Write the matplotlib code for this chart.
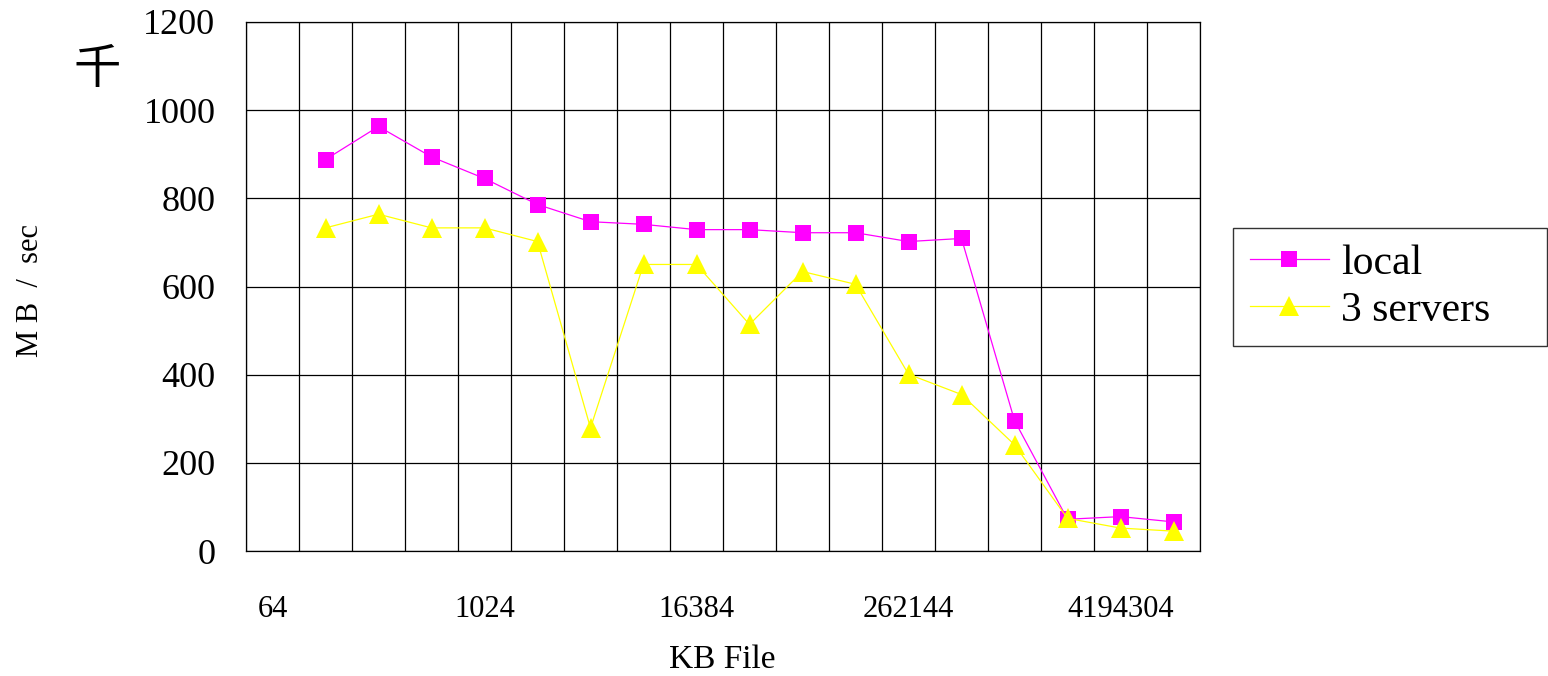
import matplotlib.pyplot as plt
import numpy as np

# file sizes in KB, one column per doubling (64 .. 8388608)
sizes = [64 * 2 ** i for i in range(18)]
size_labels = ['64', '1024', '16384', '262144', '4194304']

# throughput in MB/sec, measured from 128 KB upward
local = [888, 963, 894, 845, 786, 747, 741, 729, 729, 722, 722, 702, 709, 296, 72, 78, 66]
servers3 = [733, 764, 733, 733, 702, 279, 650, 650, 514, 634, 605, 401, 355, 241, 74, 52, 45]

fig = plt.figure(figsize=(15.48, 6.76), dpi=100)
ax = fig.add_axes([246 / 1548, 1 - 551 / 676, (1200 - 246) / 1548, (551 - 22) / 676])

xs = np.arange(1, len(sizes))
ax.plot(xs, local, color='#ff00ff', linewidth=0.9, marker='s', markersize=11,
        markeredgewidth=0, label='local')
ax.plot(xs, servers3, color='#ffff00', linewidth=0.9, marker='^', markersize=14,
        markeredgewidth=0, label='3 servers')

ax.set_xlim(-0.5, len(sizes) - 0.5)
ax.set_ylim(0, 1200)
ax.set_yticks(range(0, 1201, 200))
ax.set_xticks(range(0, len(sizes), 4))
ax.set_xticklabels(size_labels)
ax.set_xticks(np.arange(-0.5, len(sizes), 1), minor=True)

ax.grid(True, which='major', axis='y', color='black', linewidth=0.9)
ax.grid(True, which='minor', axis='x', color='black', linewidth=0.9)
ax.tick_params(axis='both', which='both', length=0)
ax.tick_params(axis='y', pad=22, labelsize=26)
ax.tick_params(axis='x', pad=32, labelsize=22)
for lbl in ax.get_yticklabels() + ax.get_xticklabels():
    lbl.set_family('Liberation Serif')
for sp in ax.spines.values():
    sp.set_color('black')
    sp.set_linewidth(0.9)

fig.text(722 / 1548, 1 - 660 / 676, 'KB File', fontsize=24, family='Liberation Serif',
         ha='center', va='center')
fig.text(30 / 1548, 1 - 290 / 676, 'M B  /  sec', rotation=90, fontsize=22,
         family='Liberation Serif', ha='center', va='center')
fig.text(97 / 1548, 1 - 70 / 676, '千', fontsize=34, family='Noto Sans CJK JP',
         ha='center', va='center')

leg = ax.legend(loc='center left',
                bbox_to_anchor=(1233 / 1548, 1 - 346 / 676, (1547 - 1233) / 1548, 118 / 676),
                bbox_transform=fig.transFigure, mode='expand', frameon=True, fancybox=False,
                prop={'family': 'Liberation Serif', 'size': 30}, handlelength=1.9,
                handletextpad=0.3, borderpad=0.4, labelspacing=0.2, borderaxespad=0)
leg.get_frame().set_edgecolor('black')
leg.get_frame().set_linewidth(1.0)

fig.savefig('out.png', dpi=100, facecolor='white')
